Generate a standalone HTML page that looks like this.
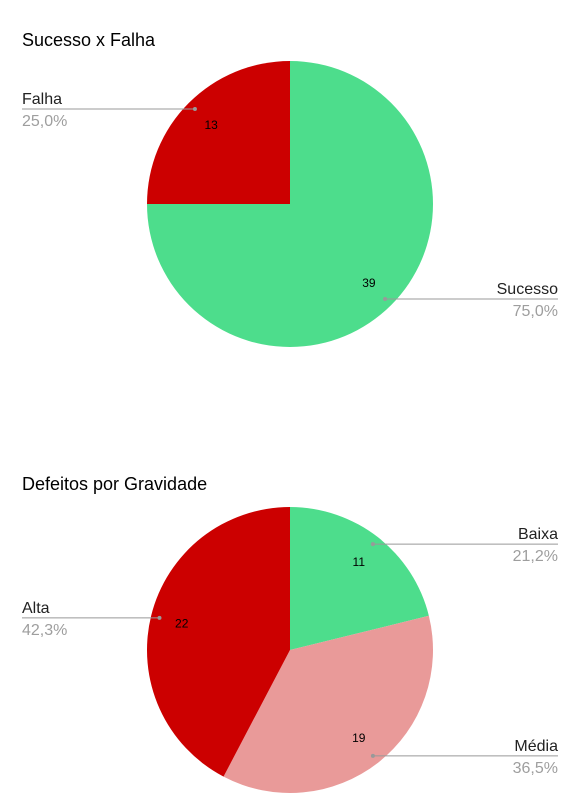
<!DOCTYPE html>
<html><head><meta charset="utf-8"><style>
body{margin:0;background:#fff;width:578px;height:812px;overflow:hidden;font-family:"Liberation Sans",sans-serif}
svg{display:block}
</style></head><body>
<svg id="s" width="578" height="812">
<text x="22" y="46" font-size="18" fill="#000">Sucesso x Falha</text>
<text x="22" y="490" font-size="18" fill="#000">Defeitos por Gravidade</text>
</svg>
<script>
const c1Labels=["Sucesso","Falha"];
const c1Values=[39,13];
const c1Pct=["75,0%","25,0%"];
const c2Labels=["Baixa","Média","Alta"];
const c2Values=[11,19,22];
const c2Pct=["21,2%","36,5%","42,3%"];
const NS="http://www.w3.org/2000/svg";
const svg=document.getElementById('s');
function mk(t,a){const e=document.createElementNS(NS,t);for(const k in a)e.setAttribute(k,a[k]);svg.appendChild(e);return e;}
function pie(labels,values,pct,colors,cx,cy,r,id){
  const tot=values.reduce((a,b)=>a+b,0);let a0=0;
  values.forEach((v,i)=>{
    const a1=a0+v/tot*2*Math.PI;
    const p=a=>[cx+r*Math.sin(a),cy-r*Math.cos(a)];
    const [x0,y0]=p(a0),[x1,y1]=p(a1);
    const path=mk('path',{d:`M${cx},${cy}L${x0},${y0}A${r},${r} 0 ${a1-a0>Math.PI?1:0} 1 ${x1},${y1}Z`,fill:colors[i]});
    
    
    const m=(a0+a1)/2,sx=Math.sin(m),sy=-Math.cos(m);
    const dx=cx+0.94*r*sx,dy=cy+0.94*r*sy;
    const vt=mk('text',{x:cx+0.78*r*sx,y:cy+0.78*r*sy+4,'font-size':12,'text-anchor':'middle',fill:'#000'});
    vt.textContent=v;
    
    
    const right=sx>0;const ex=right?558:22;
    const ln=mk('line',{x1:dx,y1:dy,x2:ex,y2:dy,stroke:'#999','stroke-width':1});
    
    
    const dt=mk('circle',{cx:dx,cy:dy,r:2,fill:'#999'});
    
    
    const anc=right?'end':'start';
    const lt=mk('text',{x:ex,y:dy-5,'font-size':16,'text-anchor':anc,fill:'#222'});
    lt.textContent=labels[i];
    
    
    const pt=mk('text',{x:ex,y:dy+17,'font-size':16,'text-anchor':anc,fill:'#9e9e9e'});
    pt.textContent=pct[i];
    
    
    a0=a1;
  });
}
pie(c1Labels,c1Values,c1Pct,["#4ddd8c","#cc0000"],290,204,143,'chart1');
pie(c2Labels,c2Values,c2Pct,["#4ddd8c","#e99a99","#cc0000"],290,650,143,'chart2');
</script>
</body></html>
